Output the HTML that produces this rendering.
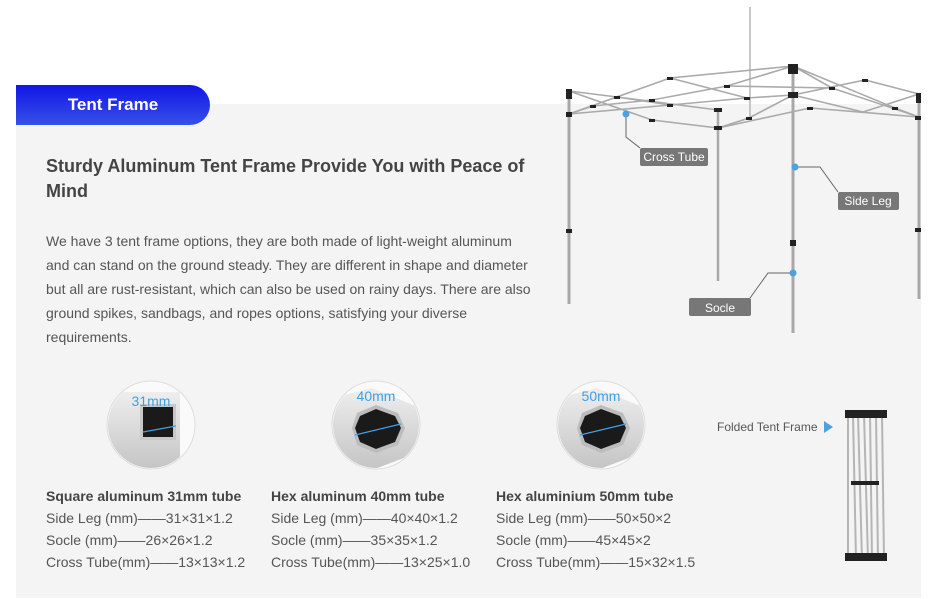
<!DOCTYPE html>
<html><head><meta charset="utf-8"><style>
body{margin:0;width:941px;height:599px;background:#fff;position:relative;overflow:hidden;font-family:"Liberation Sans",Arial,sans-serif;}
.panel{position:absolute;left:16px;top:104px;width:905px;height:494px;background:#f4f4f4;}
.pill{position:absolute;left:16px;top:85px;width:194px;height:40px;border-radius:0 20px 20px 0;background:linear-gradient(180deg,#1216e6,#3650ea);color:#fff;font-weight:bold;font-size:17px;line-height:40px;text-align:center;}
.h{position:absolute;left:46px;top:154px;width:490px;font-size:18px;font-weight:bold;color:#444;line-height:25px;}
.p{position:absolute;left:46px;top:229px;width:487px;font-size:14px;color:#555;line-height:24px;}
.spec{position:absolute;top:485px;font-size:14px;color:#555;line-height:22px;white-space:nowrap;}
.spec b{color:#444;}
</style></head><body>
<div class="panel"></div>
<div class="pill">Tent Frame</div>
<div class="h">Sturdy Aluminum Tent Frame Provide You with Peace of Mind</div>
<div class="p">We have 3 tent frame options, they are both made of light-weight aluminum and can stand on the ground steady. They are different in shape and diameter but all are rust-resistant, which can also be used on rainy days. There are also ground spikes, sandbags, and ropes options, satisfying your diverse requirements.</div>

<svg width="941" height="599" style="position:absolute;left:0;top:0">
<defs>
<clipPath id="c1"><circle cx="151" cy="425" r="43"/></clipPath>
<clipPath id="c2"><circle cx="376" cy="425" r="43"/></clipPath>
<clipPath id="c3"><circle cx="601" cy="425" r="43"/></clipPath>
<linearGradient id="g" x1="0" y1="0" x2="0" y2="1"><stop offset="0" stop-color="#eee"/><stop offset="1" stop-color="#c4c4c4"/></linearGradient>
</defs>
<g>
<circle cx="151" cy="425" r="44" fill="#fafafa" stroke="#ddd"/>
<g clip-path="url(#c1)">
<polygon points="100,392 180,392 180,470 100,470" fill="url(#g)"/>
<rect x="140" y="404" width="36" height="36" fill="#c8c8c8"/>
<rect x="143" y="407" width="30" height="30" fill="#1a1a1a"/>
</g>
<line x1="143" y1="432" x2="176" y2="426" stroke="#3fa0e6" stroke-width="1.2"/>
<text x="151" y="406" font-size="14" fill="#3fa0e6" text-anchor="middle" font-family="Liberation Sans">31mm</text>

<circle cx="376" cy="425" r="44" fill="#fafafa" stroke="#ddd"/>
<g clip-path="url(#c2)">
<polygon points="325,400 372,388 425,410 425,450 372,470 330,455" fill="url(#g)"/>
<polygon points="376,405 398,413 405,428 398,445 376,453 357,445 352,428 357,413" fill="#bcbcbc"/>
<polygon points="376,409 395,416 401,428 395,442 376,449 360,442 355,428 360,416" fill="#1a1a1a"/>
</g>
<line x1="355" y1="435" x2="401" y2="424" stroke="#3fa0e6" stroke-width="1.2"/>
<text x="376" y="401" font-size="14" fill="#3fa0e6" text-anchor="middle" font-family="Liberation Sans">40mm</text>

<circle cx="601" cy="425" r="44" fill="#fafafa" stroke="#ddd"/>
<g clip-path="url(#c3)">
<polygon points="550,400 597,388 650,410 650,450 597,470 555,455" fill="url(#g)"/>
<polygon points="601,405 623,413 630,428 623,445 601,453 582,445 577,428 582,413" fill="#bcbcbc"/>
<polygon points="601,409 620,416 626,428 620,442 601,449 585,442 580,428 585,416" fill="#1a1a1a"/>
</g>
<line x1="580" y1="435" x2="626" y2="424" stroke="#3fa0e6" stroke-width="1.2"/>
<text x="601" y="401" font-size="14" fill="#3fa0e6" text-anchor="middle" font-family="Liberation Sans">50mm</text>
</g>

<g stroke="#aaa" stroke-width="1.6" fill="none">
<line x1="750" y1="7" x2="750" y2="117" stroke="#bbb"/>
<polyline points="569,114 670,78 793,66"/>
<polyline points="569,91 617,97 670,105 747,98 793,95"/>
<polyline points="569,91 652,120 718,128"/>
<polyline points="569,114 593,106 652,100 727,86 793,66"/>
<polyline points="569,114 670,105"/>
<polyline points="617,97 718,110"/>
<polyline points="670,78 747,98"/>
<polyline points="718,128 749,118 793,95"/>
<polyline points="718,128 810,108 919,117"/>
<polyline points="793,66 832,88 919,117"/>
<polyline points="793,95 865,80 919,94"/>
<polyline points="793,66 895,108 919,117"/>
<polyline points="793,95 863,112 919,94"/>
<polyline points="727,86 832,88"/>
</g>
<g stroke="#a8a8a8" stroke-width="3">
<line x1="569" y1="91" x2="569" y2="304"/>
<line x1="793" y1="66" x2="793" y2="333"/>
<line x1="718" y1="110" x2="718" y2="281" stroke-width="2.5"/>
<line x1="919" y1="94" x2="919" y2="299"/>
</g>
<g fill="#222">
<rect x="566" y="89" width="6" height="10"/><rect x="566" y="112" width="6" height="5"/><rect x="566" y="229" width="6" height="4"/>
<rect x="788" y="64" width="10" height="10"/><rect x="788" y="92" width="10" height="6"/><rect x="790" y="240" width="6" height="6"/>
<rect x="714" y="108" width="8" height="4"/><rect x="714" y="126" width="8" height="4"/>
<rect x="916" y="93" width="5" height="10"/><rect x="915" y="116" width="6" height="4"/><rect x="915" y="228" width="6" height="4"/>
<rect x="667" y="77" width="6" height="3"/><rect x="724" y="85" width="6" height="3"/><rect x="614" y="96" width="6" height="3"/><rect x="649" y="99" width="6" height="3"/><rect x="667" y="104" width="6" height="3"/><rect x="649" y="119" width="6" height="3"/><rect x="744" y="97" width="6" height="3"/><rect x="746" y="117" width="6" height="3"/><rect x="829" y="87" width="6" height="3"/><rect x="862" y="79" width="6" height="3"/><rect x="892" y="107" width="6" height="3"/><rect x="807" y="107" width="6" height="3"/><rect x="590" y="105" width="6" height="3"/>
</g>
<g stroke="#666" stroke-width="1" fill="none">
<polyline points="626,114 626,137 640,148"/>
<polyline points="795,167 820,167 838,192"/>
<polyline points="793,273 768,273 750,298"/>
</g>
<g fill="#4aa3e0"><circle cx="626" cy="114" r="3.5"/><circle cx="795" cy="167" r="3.5"/><circle cx="793" cy="273" r="3.5"/></g>
<g font-family="Liberation Sans" font-size="12" fill="#fff" text-anchor="middle">
<rect x="640" y="148" width="68" height="18" rx="2" fill="#777"/><text x="674" y="161">Cross Tube</text>
<rect x="838" y="192" width="61" height="18" rx="2" fill="#777"/><text x="868" y="205">Side Leg</text>
<rect x="689" y="298" width="62" height="18" rx="2" fill="#777"/><text x="720" y="312">Socle</text>
</g>
<text x="717" y="431" font-family="Liberation Sans" font-size="12" fill="#555">Folded Tent Frame</text>
<polygon points="824,421 833,427 824,433" fill="#4aa3e0"/>
<g stroke="#b5b5b5" stroke-width="2">
<line x1="848" y1="414" x2="848" y2="560"/><line x1="853" y1="414" x2="856" y2="560"/><line x1="858" y1="414" x2="862" y2="560"/>
<line x1="864" y1="414" x2="868" y2="560"/><line x1="870" y1="414" x2="872" y2="560"/><line x1="876" y1="414" x2="878" y2="560"/><line x1="882" y1="414" x2="884" y2="560"/>
</g>
<g fill="#222"><rect x="845" y="410" width="42" height="8"/><rect x="851" y="481" width="28" height="4"/><rect x="845" y="553" width="42" height="8"/></g>
</svg>

<div class="spec" style="left:46px"><b>Square aluminum 31mm tube</b><br>Side Leg (mm)——31×31×1.2<br>Socle (mm)——26×26×1.2<br>Cross Tube(mm)——13×13×1.2</div>
<div class="spec" style="left:271px"><b>Hex aluminum 40mm tube</b><br>Side Leg (mm)——40×40×1.2<br>Socle (mm)——35×35×1.2<br>Cross Tube(mm)——13×25×1.0</div>
<div class="spec" style="left:496px"><b>Hex aluminium 50mm tube</b><br>Side Leg (mm)——50×50×2<br>Socle (mm)——45×45×2<br>Cross Tube(mm)——15×32×1.5</div>
</body></html>
